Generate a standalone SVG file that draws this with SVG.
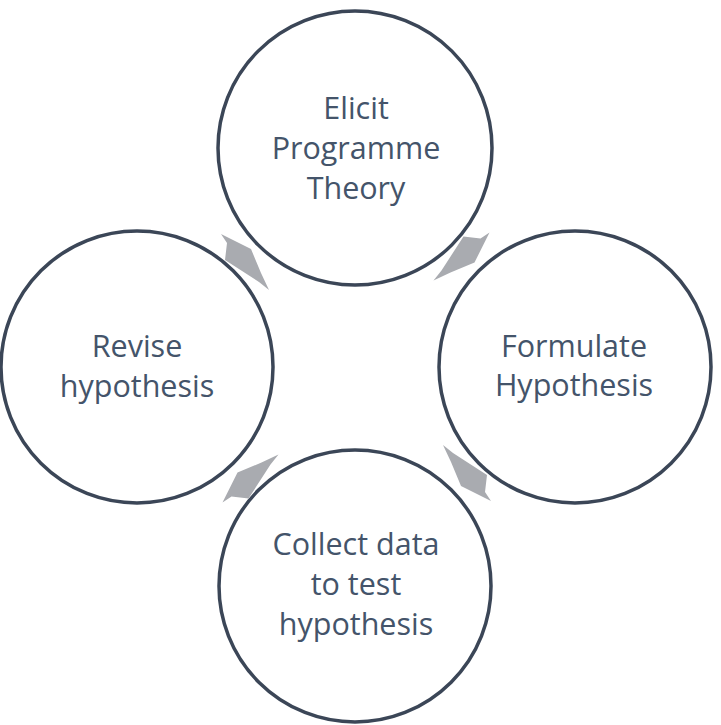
<svg xmlns="http://www.w3.org/2000/svg" width="721" height="725" viewBox="0 0 721 725">
<defs>
<style>
.node circle{fill:#ffffff;stroke:#3b4657;stroke-width:3.5}
.node text{font-family:"Open Sans","Noto Sans",sans-serif;font-size:30.5px;fill:#44546a;text-anchor:middle}
.arrow{fill:#a9abb0}
</style>
<polygon id="arr" class="arrow" points="221,234 251,249 261,273 269,290 259,282 225,260 227,243"/>
</defs>
<rect width="721" height="725" fill="#ffffff"/>
<g id="top"  class="node"><circle cx="355" cy="148" r="137"/><text x="356" y="119">Elicit</text><text x="356" y="159">Programme</text><text x="356" y="199">Theory</text></g>
<g id="right" class="node"><circle cx="575" cy="367" r="136"/><text x="574" y="357">Formulate</text><text x="574" y="396">Hypothesis</text></g>
<g id="bottom" class="node"><circle cx="355" cy="586" r="136"/><text x="356" y="555">Collect data</text><text x="356" y="595">to test</text><text x="356" y="635">hypothesis</text></g>
<g id="left" class="node"><circle cx="137" cy="367" r="136"/><text x="137" y="357">Revise</text><text x="137" y="397">hypothesis</text></g>
<g id="connectors">
<use href="#arr"/>
<use href="#arr" transform="rotate(90 356 367.5)"/>
<use href="#arr" transform="rotate(180 356 367.5)"/>
<use href="#arr" transform="rotate(270 356 367.5)"/>
</g>
</svg>
